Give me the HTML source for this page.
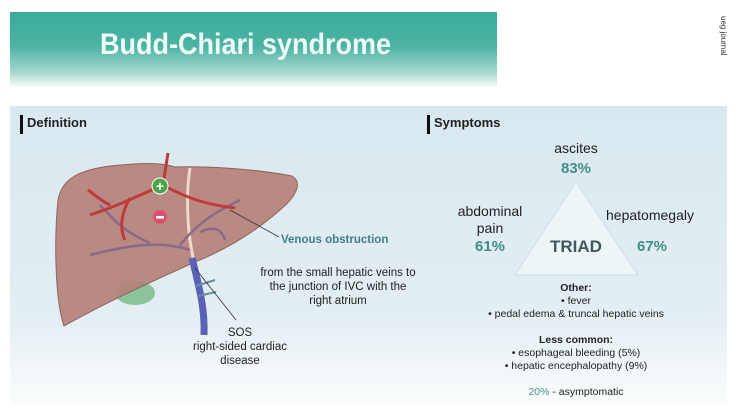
<!DOCTYPE html>
<html><head><meta charset="utf-8"><style>
body{margin:0;width:739px;height:415px;background:#fff;position:relative;overflow:hidden;font-family:"Liberation Sans",sans-serif;color:#222}
.a{position:absolute;white-space:nowrap}
.c{text-align:center}
.t{color:#3f8f86;font-weight:bold}
</style></head><body>
<div class="a" style="left:10px;top:12px;width:487px;height:76px;background:linear-gradient(#3aab9b 0%,#4cb3a4 45%,#a9d9d0 80%,#fff 100%)"></div>
<div class="a" style="left:100px;top:28px;font-size:30px;font-weight:bold;color:#eefaf7;transform:scaleX(0.9);transform-origin:left">Budd-Chiari syndrome</div>
<div class="a" style="top:16px;font-size:8px;color:#333;transform:rotate(90deg);transform-origin:left top;left:728px">ueg journal</div>
<div class="a" style="left:10px;top:106px;width:717px;height:300px;background:linear-gradient(#d9e8ef 0%,#e3eef3 70%,#fbfdfd 100%)"></div>
<div class="a" style="left:20px;top:115px;width:3px;height:19px;background:#111"></div>
<div class="a" style="left:27px;top:115px;font-size:13px;font-weight:bold">Definition</div>
<div class="a" style="left:427px;top:115px;width:3px;height:19px;background:#111"></div>
<div class="a" style="left:434px;top:115px;font-size:13px;font-weight:bold">Symptoms</div>
<svg class="a" style="left:0;top:0" width="739" height="415">
<ellipse cx="135" cy="293" rx="20" ry="12" fill="#8cc49a"/>
<path d="M58,200 C62,178 80,170 110,166 C140,163 160,162 175,167 C200,166 250,168 292,176 C302,182 298,195 280,210 C255,232 225,250 195,262 C160,278 110,300 64,326 C55,300 54,240 58,200Z" fill="#b4817a" fill-opacity="0.92" stroke="#8d625c" stroke-width="1"/>
<path d="M190,168 C185,200 188,240 195,265" stroke="#efd9c8" stroke-width="3" fill="none"/>
<path d="M192,258 C200,290 205,310 204,335" stroke="#5a62b8" stroke-width="7" fill="none"/>
<path d="M196,286 L215,280 M198,296 L216,292" stroke="#6a8aa0" stroke-width="2" fill="none"/>
<path d="M190,250 C160,240 130,245 90,255 M180,245 C200,220 220,210 240,200 M200,232 C215,225 222,230 225,240 M150,243 C120,230 110,215 100,205" stroke="#8a6a8a" stroke-width="2.5" fill="none"/>
<path d="M168,153 L163,185 C140,195 120,205 90,215 M163,185 C190,200 210,205 235,208 M130,198 C120,215 120,230 125,240 M110,205 C100,200 95,195 88,190" stroke="#c0393b" stroke-width="3" fill="none"/>
<circle cx="160" cy="186" r="8" fill="#4aa54a" stroke="#fff" stroke-width="1"/>
<text x="160" y="191" font-size="14" font-weight="bold" fill="#fff" text-anchor="middle" font-family="Liberation Sans">+</text>
<circle cx="160" cy="217" r="7" fill="#d9536a"/>
<rect x="156" y="216" width="8" height="2.5" fill="#fff"/>
<path d="M230,210 L279,237 M195,268 L236,320" stroke="#333" stroke-width="0.8"/>
<path d="M576,182 L638,275 L515,275 Z" fill="#eef5f8" stroke="#cfdde3"/>
</svg>
<div class="a" style="left:281px;top:234px;font-size:11.5px;font-weight:bold;color:#3f7f85">Venous obstruction</div>
<div class="a c" style="left:238px;top:266px;width:200px;font-size:11.5px;line-height:14px">from the small hepatic veins to<br>the junction of IVC with the<br>right atrium</div>
<div class="a c" style="left:180px;top:326px;width:120px;font-size:11.5px;line-height:14px">SOS<br>right-sided cardiac<br>disease</div>
<div class="a c" style="left:536px;top:140px;width:80px;font-size:14px">ascites</div>
<div class="a c t" style="left:536px;top:160px;width:80px;font-size:15px">83%</div>
<div class="a c" style="left:440px;top:203px;width:100px;font-size:14px;line-height:17px">abdominal<br>pain</div>
<div class="a c t" style="left:440px;top:238px;width:100px;font-size:15px">61%</div>
<div class="a c" style="left:600px;top:207px;width:100px;font-size:14px">hepatomegaly</div>
<div class="a c t" style="left:612px;top:238px;width:80px;font-size:15px">67%</div>
<div class="a c" style="left:536px;top:237px;width:80px;font-size:17px;font-weight:bold;color:#3e5a5a">TRIAD</div>
<div class="a c" style="left:476px;top:282px;width:200px;font-size:10.5px;line-height:13px"><b>Other:</b><br>• fever<br>• pedal edema &amp; truncal hepatic veins</div>
<div class="a c" style="left:476px;top:334px;width:200px;font-size:10.5px;line-height:13px"><b>Less common:</b><br>• esophageal bleeding (5%)<br>• hepatic encephalopathy (9%)</div>
<div class="a c" style="left:476px;top:386px;width:200px;font-size:10.5px"><span style="color:#3f8f86">20%</span> - asymptomatic</div>
</body></html>
